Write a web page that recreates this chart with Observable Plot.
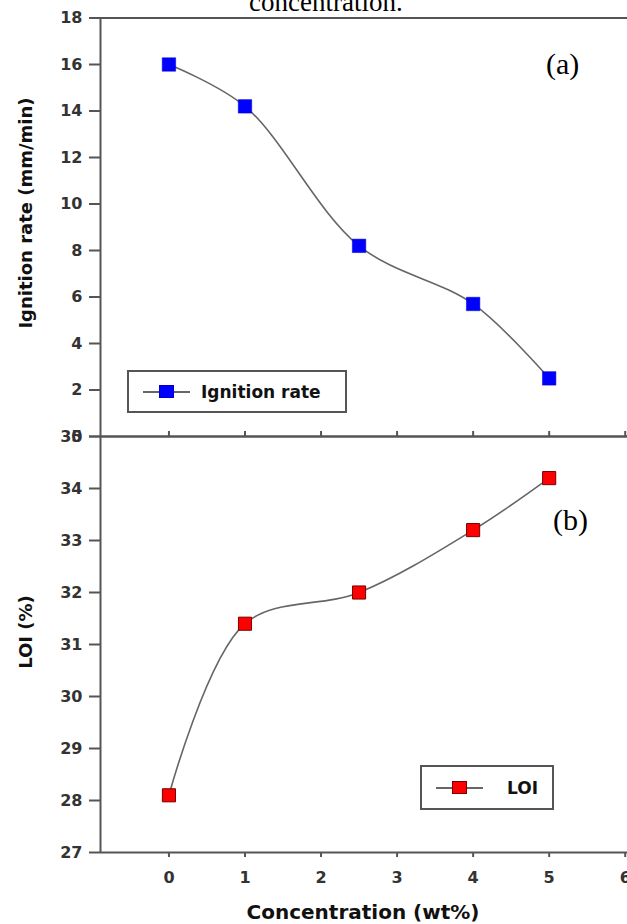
<!DOCTYPE html>
<html>
<head>
<meta charset="utf-8">
<script src="https://cdn.jsdelivr.net/npm/d3@7"></script>
<script src="https://cdn.jsdelivr.net/npm/@observablehq/plot@0.6"></script>
<style>
  body { margin: 0; background: #fff; }
  #wrap { position: relative; width: 627px; height: 924px; overflow: hidden; background: #fff; }
  #wrap svg { position: absolute; left: 0; overflow: visible; }
  .cap { position: absolute; font-family: "Liberation Serif", serif; color: #000; white-space: nowrap; line-height: 1; }
  .ytitle { position: absolute; font-family: "DejaVu Sans", sans-serif; font-weight: bold; color: #111;
            white-space: nowrap; transform: translate(-50%, -50%) rotate(-90deg); line-height: 1; }
  .xtitle { position: absolute; font-family: "DejaVu Sans", sans-serif; font-weight: bold; color: #111;
            white-space: nowrap; transform: translate(-50%, -50%); line-height: 1; }
  .legend { position: absolute; box-sizing: border-box; border: 2px solid #555; background: #fff; }
  .legend .ln { position: absolute; height: 2px; background: #666; }
  .legend .mk { position: absolute; box-sizing: border-box; }
  .legend .tx { position: absolute; font-family: "DejaVu Sans", sans-serif; font-weight: bold; color: #111;
                white-space: nowrap; line-height: 1; transform: translateY(-50%); }
</style>
</head>
<body>
<div id="wrap"></div>
<script>
// ---- data ----
const concentration = [0, 1, 2.5, 4, 5];          // wt%
const ignitionRate  = [16.0, 14.2, 8.2, 5.7, 2.5]; // mm/min
const loi           = [28.1, 31.4, 32.0, 33.2, 34.2]; // %
const xTicks        = [0, 1, 2, 3, 4, 5, 6];
const ignitionTicks = [0, 2, 4, 6, 8, 10, 12, 14, 16, 18];
const loiTicks      = [27, 28, 29, 30, 31, 32, 33, 34, 35];
const xTitle = "Concentration (wt%)";
const yTitleA = "Ignition rate (mm/min)";
const yTitleB = "LOI (%)";
const legendA = "Ignition rate";
const legendB = "LOI";

const rowsA = concentration.map((c, i) => ({c, v: ignitionRate[i]}));
const rowsB = concentration.map((c, i) => ({c, v: loi[i]}));

const xDomain = [-0.9, 6.03];
const axisColor = "#555";
const textColor = "#333";
const baseStyle = {background: "transparent", fontFamily: "DejaVu Sans, sans-serif", fontWeight: "bold", fontSize: "16px", color: textColor};
const fmt = d3.format("d");

const wrap = document.getElementById("wrap");

// ---- panel (a) ----
const plotA = Plot.plot({
  width: 627, height: 440,
  marginLeft: 100, marginRight: 0, marginTop: 17.5, marginBottom: 4,
  x: {domain: xDomain},
  y: {domain: [0, 18]},
  style: baseStyle,
  marks: [
    Plot.ruleY([18], {stroke: axisColor, strokeWidth: 2}),
    Plot.ruleY([0], {stroke: axisColor, strokeWidth: 2}),
    Plot.ruleX([xDomain[0]], {stroke: axisColor, strokeWidth: 2}),
    Plot.axisY({ticks: ignitionTicks, tickSize: 11, tickPadding: 7, tickFormat: fmt, label: null, color: textColor, stroke: axisColor, strokeWidth: 2}),
    Plot.axisX({ticks: xTicks, tickSize: -5, tickFormat: () => "", label: null, stroke: axisColor, strokeWidth: 2}),
    Plot.line(rowsA, {x: "c", y: "v", curve: "catmull-rom", stroke: "#666", strokeWidth: 1.6}),
    Plot.dot(rowsA, {x: "c", y: "v", symbol: "square", r: 7.6, fill: "#0000ff", stroke: "#0000cc", strokeWidth: 0.5})
  ]
});
plotA.style.top = "0px";
wrap.appendChild(plotA);

// ---- panel (b) ----
const plotB = Plot.plot({
  width: 627, height: 494,
  marginLeft: 100, marginRight: 0, marginTop: 6, marginBottom: 72,
  x: {domain: xDomain},
  y: {domain: [27, 35]},
  style: baseStyle,
  marks: [
    Plot.ruleY([35], {stroke: axisColor, strokeWidth: 2}),
    Plot.ruleY([27], {stroke: axisColor, strokeWidth: 2}),
    Plot.ruleX([xDomain[0]], {stroke: axisColor, strokeWidth: 2}),
    Plot.axisY({ticks: loiTicks, tickSize: 11, tickPadding: 7, tickFormat: fmt, label: null, color: textColor, stroke: axisColor, strokeWidth: 2}),
    Plot.axisX({ticks: xTicks, tickSize: 5, tickPadding: 14, tickFormat: fmt, label: null, color: textColor, stroke: axisColor, strokeWidth: 2}),
    Plot.line(rowsB, {x: "c", y: "v", curve: "catmull-rom", stroke: "#666", strokeWidth: 1.6}),
    Plot.dot(rowsB, {x: "c", y: "v", symbol: "square", r: 7.4, fill: "#ff0000", stroke: "#700", strokeWidth: 1})
  ]
});
plotB.style.top = "430px";
wrap.appendChild(plotB);

// ---- text & legends ----
function addDiv(cls, text, css) {
  const d = document.createElement("div");
  d.className = cls;
  if (text != null) d.textContent = text;
  Object.assign(d.style, css);
  wrap.appendChild(d);
  return d;
}
addDiv("cap", "concentration.", {left: "249px", top: "-11px", fontSize: "27px"});
addDiv("cap", "(a)", {left: "546px", top: "49px", fontSize: "30px"});
addDiv("cap", "(b)", {left: "553px", top: "505px", fontSize: "30px"});
addDiv("ytitle", yTitleA, {left: "26px", top: "213px", fontSize: "18px"});
addDiv("ytitle", yTitleB, {left: "26px", top: "632px", fontSize: "18px"});
addDiv("xtitle", xTitle, {left: "363px", top: "912px", fontSize: "20px"});

function legend(box, label, fill, stroke) {
  const lg = addDiv("legend", null, {left: box.x + "px", top: box.y + "px", width: box.w + "px", height: box.h + "px"});
  const cy = box.h / 2 - 2;
  const ln = document.createElement("div"); ln.className = "ln";
  Object.assign(ln.style, {left: "14px", width: "47px", top: (cy - 1) + "px"}); lg.appendChild(ln);
  const mk = document.createElement("div"); mk.className = "mk";
  Object.assign(mk.style, {left: "30px", width: "15px", height: "13px", top: (cy - 6.5) + "px", background: fill, border: "1px solid " + stroke}); lg.appendChild(mk);
  const tx = document.createElement("div"); tx.className = "tx"; tx.textContent = label;
  Object.assign(tx.style, {left: box.tx + "px", top: cy + "px", fontSize: "17px"}); lg.appendChild(tx);
}
legend({x: 127, y: 370, w: 220, h: 43, tx: 72}, legendA, "#0000ff", "#0000cc");
legend({x: 420, y: 765, w: 134, h: 45, tx: 85}, legendB, "#ff0000", "#700");
</script>
</body>
</html>
